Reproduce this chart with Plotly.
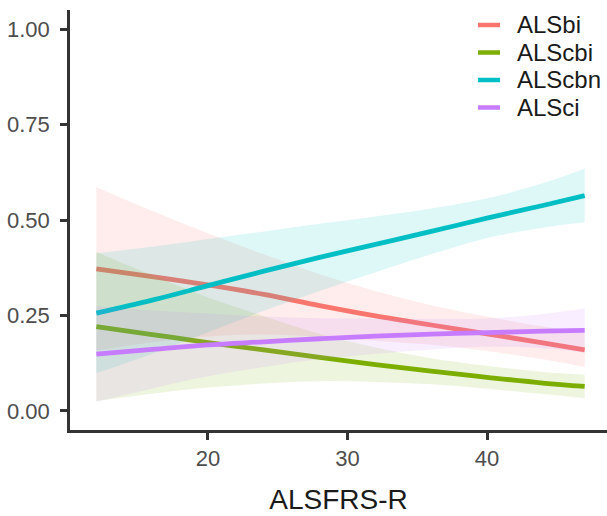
import plotly.graph_objects as go

# ALSFRS-R values at which the fitted curves are evaluated
alsfrs = [12, 16, 20, 24, 28, 32, 36, 40, 44, 47]

groups = ["ALSbi", "ALScbi", "ALScbn", "ALSci"]
colors = ["#F8766D", "#7CAE00", "#00BFC4", "#C77CFF"]
fills = ["rgba(248,118,109,0.13)", "rgba(124,174,0,0.13)",
         "rgba(0,191,196,0.13)", "rgba(199,124,255,0.13)"]

# fitted probability per group
fit_alsbi = [0.372, 0.352, 0.330, 0.305, 0.276, 0.249, 0.225, 0.202, 0.178, 0.160]
fit_alscbi = [0.221, 0.200, 0.179, 0.160, 0.140, 0.121, 0.104, 0.088, 0.073, 0.064]
fit_alscbn = [0.256, 0.290, 0.328, 0.366, 0.402, 0.436, 0.470, 0.505, 0.538, 0.564]
fit_alsci = [0.149, 0.161, 0.173, 0.181, 0.189, 0.196, 0.201, 0.205, 0.209, 0.211]

# half-width of the 95% confidence band per group
ci_alsbi = [0.214, 0.172, 0.135, 0.105, 0.082, 0.065, 0.052, 0.045, 0.043, 0.045]
ci_alscbi = [0.195, 0.155, 0.118, 0.088, 0.062, 0.045, 0.034, 0.030, 0.029, 0.031]
ci_alscbn = [0.157, 0.140, 0.122, 0.104, 0.088, 0.073, 0.060, 0.052, 0.058, 0.070]
ci_alsci = [0.125, 0.102, 0.082, 0.066, 0.054, 0.046, 0.040, 0.037, 0.045, 0.058]

fits = [fit_alsbi, fit_alscbi, fit_alscbn, fit_alsci]
cis = [ci_alsbi, ci_alscbi, ci_alscbn, ci_alsci]

y_ticks = [0.0, 0.25, 0.5, 0.75, 1.0]
y_ticktext = ["0.00", "0.25", "0.50", "0.75", "1.00"]
x_ticks = [20, 30, 40]

fig = go.Figure()

# each group: ribbon first, then its line (later ribbons sit over earlier lines)
for name, col, fc, fit, ci in zip(groups, colors, fills, fits, cis):
    lower = [f - c for f, c in zip(fit, ci)]
    upper = [f + c for f, c in zip(fit, ci)]
    fig.add_trace(go.Scatter(x=alsfrs, y=lower, mode="lines",
                             line=dict(width=0, shape="spline", color=fc),
                             hoverinfo="skip", showlegend=False))
    fig.add_trace(go.Scatter(x=alsfrs, y=upper, mode="lines", fill="tonexty",
                             fillcolor=fc,
                             line=dict(width=0, shape="spline", color=fc),
                             hoverinfo="skip", showlegend=False))
    fig.add_trace(go.Scatter(x=alsfrs, y=fit, mode="lines", name=name,
                             line=dict(color=col, width=4.8, shape="spline"),
                             showlegend=False))

# legend drawn as key lines plus labels in the top-right corner
W, H = 607, 516
ml, mr, mt, mb = 70, 0, 10, 86
pw, ph = W - ml - mr, H - mt - mb


def px_to_paper(px, py):
    return (px - ml) / pw, (H - mb - py) / ph


row_y = [25, 52.5, 80, 107.5]
for name, col, ry in zip(groups, colors, row_y):
    x0, yk = px_to_paper(478, ry)
    x1, _ = px_to_paper(500, ry)
    fig.add_shape(type="line", xref="paper", yref="paper",
                  x0=x0, x1=x1, y0=yk, y1=yk,
                  line=dict(color=col, width=4.5))
    xt, _ = px_to_paper(515, ry)
    fig.add_annotation(xref="paper", yref="paper", x=xt, y=yk,
                       text=name, showarrow=False, xanchor="left",
                       yanchor="middle",
                       font=dict(size=24, color="#1a1a1a",
                                 family="Liberation Sans, Arial, sans-serif"))

axis_common = dict(showline=True, linecolor="#333333", linewidth=2.5,
                   ticks="outside", ticklen=7, tickwidth=2.5,
                   tickcolor="#333333", showgrid=False, zeroline=False,
                   tickfont=dict(size=22, color="#4d4d4d",
                                 family="Liberation Sans, Arial, sans-serif"))

fig.update_layout(
    width=W, height=H,
    margin=dict(l=ml, r=mr, t=mt, b=mb),
    plot_bgcolor="white", paper_bgcolor="white",
    showlegend=False,
    xaxis=dict(range=[10.11, 48.6], tickvals=x_ticks, ticklabelstandoff=0,
               title=dict(text="ALSFRS-R", standoff=20,
                          font=dict(size=28, color="#1a1a1a",
                                    family="Liberation Sans, Arial, sans-serif")),
               **axis_common),
    yaxis=dict(range=[-0.05, 1.05], tickvals=y_ticks, ticktext=y_ticktext,
               ticklabelstandoff=6, **axis_common),
)

fig.write_html("out.html")
